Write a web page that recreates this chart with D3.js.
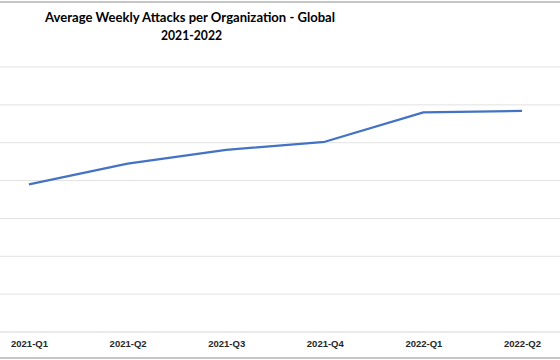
<!DOCTYPE html>
<html>
<head>
<meta charset="utf-8">
<script src="https://cdn.jsdelivr.net/npm/d3@7"></script>
<style>
  body { margin: 0; background: #fff; }
  svg { display: block; font-family: Lato, "Open Sans", sans-serif; }
</style>
</head>
<body>
<svg id="chart" width="560" height="360"></svg>
<script>
// quarters and average weekly attacks
const quarters = ["2021-Q1", "2021-Q2", "2021-Q3", "2021-Q4", "2022-Q1", "2022-Q2"];
const attacks = [780, 890, 962, 1005, 1160, 1168];
const gridValues = [200, 400, 600, 800, 1000, 1200, 1400];

const svg = d3.select("#chart");

// chart frame (left/right edges are cropped out of view)
svg.append("rect")
  .attr("x", -5).attr("y", 2)
  .attr("width", 570).attr("height", 356)
  .attr("fill", "#fff")
  .attr("stroke", "#b4b4b4")
  .attr("stroke-width", 1.5);

const x = d3.scalePoint().domain(quarters).range([29, 522]);
const y = d3.scaleLinear().domain([0, 1400]).range([332, 67]);

// gridlines
svg.append("g")
  .selectAll("line")
  .data(gridValues)
  .join("line")
  .attr("x1", 0).attr("x2", 560)
  .attr("y1", (d) => y(d)).attr("y2", (d) => y(d))
  .attr("stroke", "#e2e2e2")
  .attr("stroke-width", 1);

// x axis
const xAxis = svg.append("g")
  .attr("transform", `translate(0,${y(0)})`)
  .call(d3.axisBottom(x).tickSize(0).tickPadding(8));
xAxis.select(".domain").remove();
xAxis.append("line")
  .attr("x1", 0).attr("x2", 560)
  .attr("stroke", "#d6d6d6");
xAxis.selectAll("text")
  .attr("fill", "#262626")
  .style("font-size", "9.5px")
  .style("font-weight", "bold")
  .attr("dy", "0.71em");

// line
const line = d3.line()
  .x((d, i) => x(quarters[i]))
  .y((d) => y(d));

svg.append("path")
  .datum(attacks)
  .attr("fill", "none")
  .attr("stroke", "#4472c4")
  .attr("stroke-width", 2.25)
  .attr("stroke-linejoin", "round")
  .attr("d", line);

// title
const title = svg.append("g")
  .attr("fill", "#000")
  .style("font-size", "12.5px")
  .style("font-weight", "bold");
title.append("text")
  .attr("x", 45).attr("y", 22)
  .attr("textLength", 290)
  .attr("lengthAdjust", "spacingAndGlyphs")
  .text("Average Weekly Attacks per Organization - Global");
title.append("text")
  .attr("x", 161).attr("y", 40)
  .attr("textLength", 61)
  .attr("lengthAdjust", "spacingAndGlyphs")
  .text("2021-2022");
</script>
</body>
</html>
